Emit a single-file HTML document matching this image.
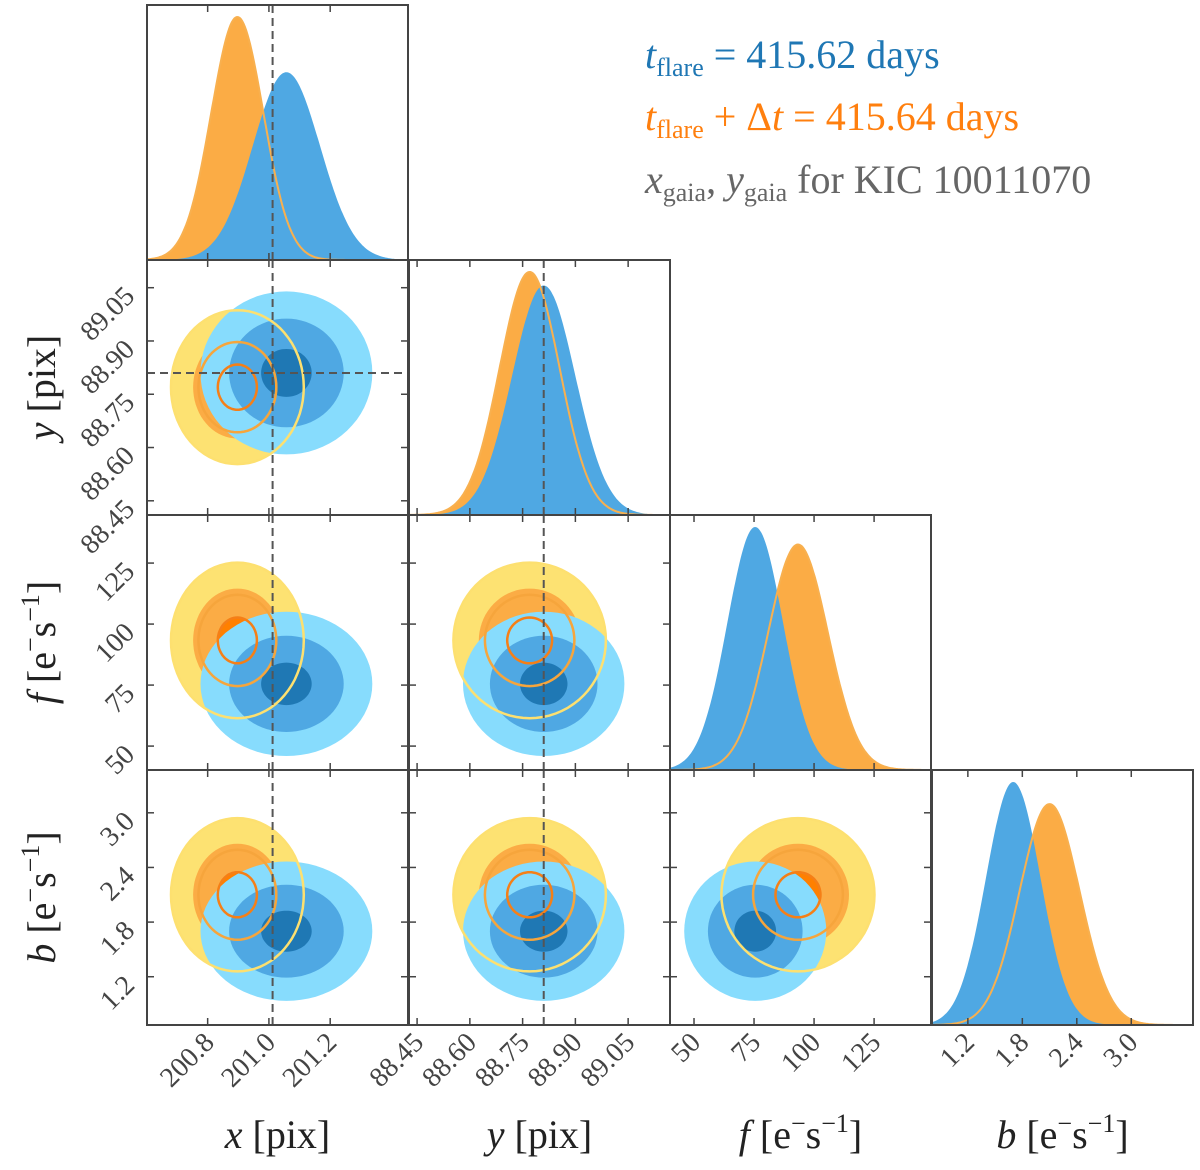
<!DOCTYPE html>
<html><head><meta charset="utf-8"><style>
html,body{margin:0;padding:0;background:#fff;}
svg{display:block;font-family:"Liberation Serif",serif;}
</style></head><body>
<svg id="chart" width="1200" height="1170" viewBox="0 0 1200 1170" xmlns="http://www.w3.org/2000/svg">
<defs id="defs"></defs>
<g id="panels"></g>
<g id="legend" font-size="40">
 <text x="645" y="68" fill="#1f77b4"><tspan font-style="italic">t</tspan><tspan font-size="26" dy="8">flare</tspan><tspan dy="-8"> = 415.62 days</tspan></text>
 <text x="645" y="130" fill="#ff7f0e"><tspan font-style="italic">t</tspan><tspan font-size="26" dy="8">flare</tspan><tspan dy="-8"> + Δ</tspan><tspan font-style="italic">t</tspan><tspan> = 415.64 days</tspan></text>
 <text x="645" y="193" fill="#666"><tspan font-style="italic">x</tspan><tspan font-size="26" dy="8">gaia</tspan><tspan dy="-8">, </tspan><tspan font-style="italic">y</tspan><tspan font-size="26" dy="8">gaia</tspan><tspan dy="-8"> for KIC 10011070</tspan></text>
</g>
</svg>
<script>
// ---- data ----
const paramNames = ["x","y","f","b"];
const blueMean = [201.057, 88.81, 75.5, 1.70];
const blueSd   = [0.11, 0.09, 11.6, 0.30];
const orangeMean = [200.897, 88.77, 93.3, 2.10];
const orangeSd   = [0.085, 0.085, 12.5, 0.33];
const gaiaX = 201.012;
const gaiaY = 88.81;
const contourLevels = [2.55, 1.7, 0.75];
const tickX = [200.8, 201.0, 201.2];
const tickY = [88.45, 88.60, 88.75, 88.90, 89.05];
const tickF = [50, 75, 100, 125];
const tickB = [1.2, 1.8, 2.4, 3.0];
const tickLabelsX = ["200.8","201.0","201.2"];
const tickLabelsY = ["88.45","88.60","88.75","88.90","89.05"];
const tickLabelsF = ["50","75","100","125"];
const tickLabelsB = ["1.2","1.8","2.4","3.0"];
// ---- axis config ----
const colLo = [200.602, 88.427, 40.0, 0.805];
const colHi = [201.454, 89.169, 148.7, 3.68];
const rowLo = [0, 88.41, 40.2, 0.67];
const rowHi = [1, 89.128, 144.7, 3.47];
const colX0 = [147, 409, 670, 932];
const rowY0 = [5, 260, 515, 770];
const PW = 261, PH = 255;
const ticks = [tickX, tickY, tickF, tickB];
const tickLabels = [tickLabelsX, tickLabelsY, tickLabelsF, tickLabelsB];
const blueFills = ["#87dcfd", "#4fa8e3", "#1f78b4"];
const orangeFills = ["#fde272", "#fbac45", "#ff8000"];
const orangeLines = ["#fde070", "#f6a53c", "#f57f17"];

const NS = "http://www.w3.org/2000/svg";
const svg = document.getElementById('chart');
const panelsG = document.getElementById('panels');
const defs = document.getElementById('defs');
function mk(tag, attrs, parent){const e=document.createElementNS(NS,tag);for(const k in attrs)e.setAttribute(k,attrs[k]);(parent||panelsG).appendChild(e);return e;}
function sx(i,v){return colX0[i] + (v-colLo[i])/(colHi[i]-colLo[i])*PW;}
function sy(j,v){return rowY0[j] + PH - (v-rowLo[j])/(rowHi[j]-rowLo[j])*PH;}
function gauss(v,m,s){return Math.exp(-0.5*((v-m)/s)**2)/s;}

for(let j=0;j<4;j++){
 for(let i=0;i<=j;i++){
  const x0=colX0[i], y0=rowY0[j];
  const g=mk('g',{});
  
  
  const cid='clip'+i+j;
  const cp=mk('clipPath',{id:cid},defs);
  mk('rect',{x:x0,y:y0,width:PW,height:PH},cp);
  const inner=mk('g',{'clip-path':'url(#'+cid+')'},g);
  if(i===j){
   const N=200; let maxD=0;
   const bd=[],od=[];
   for(let k=0;k<=N;k++){const v=colLo[i]+(colHi[i]-colLo[i])*k/N;bd.push([v,gauss(v,blueMean[i],blueSd[i])]);od.push([v,gauss(v,orangeMean[i],orangeSd[i])]);}
   bd.concat(od).forEach(p=>{if(p[1]>maxD)maxD=p[1];});
   const base=y0+PH, H=243;
   const path=(arr,close)=>{let d='';arr.forEach((p,k)=>{d+=(k?'L':'M')+sx(i,p[0]).toFixed(1)+','+(base-p[1]/maxD*H).toFixed(1);});if(close)d+='L'+(x0+PW)+','+base+'L'+x0+','+base+'Z';return d;};
   const of=mk('path',{d:path(od,true),fill:'#fbac45'},inner);
   
   
   const bf=mk('path',{d:path(bd,true),fill:'#4fa8e3'},inner);
   
   
   const ol=mk('path',{d:path(od,false),fill:'none',stroke:'#f8b04f','stroke-width':2},inner);
   
   
  } else {
   const ell=(m,s,r)=>{let d='';for(let k=0;k<=72;k++){const a=k/72*2*Math.PI;const vx=m[i]+r*s[i]*Math.cos(a);const vy=m[j]+r*s[j]*Math.sin(a);d+=(k?'L':'M')+sx(i,vx).toFixed(1)+','+sy(j,vy).toFixed(1);}return d+'Z';};
   contourLevels.forEach((r,k)=>{const e=mk('path',{d:ell(orangeMean,orangeSd,r),fill:orangeFills[k]},inner);
    
    });
   contourLevels.forEach((r,k)=>{const e=mk('path',{d:ell(blueMean,blueSd,r),fill:blueFills[k]},inner);
    
    });
   contourLevels.forEach((r,k)=>{const e=mk('path',{d:ell(orangeMean,orangeSd,r*(k===1?0.88:1)),fill:'none',stroke:orangeLines[k],'stroke-width':2.5},inner);
    
    });
  }
  if(i===0){const l=mk('line',{x1:sx(0,gaiaX),x2:sx(0,gaiaX),y1:y0,y2:y0+PH,stroke:'#555','stroke-width':2,'stroke-dasharray':'8,5'},inner);
   
   }
  if(i===1){const l=mk('line',{x1:sx(1,gaiaY),x2:sx(1,gaiaY),y1:y0,y2:y0+PH,stroke:'#555','stroke-width':2,'stroke-dasharray':'8,5'},inner);
   
   }
  if(j===1&&i===0){const l=mk('line',{x1:x0,x2:x0+PW,y1:sy(1,gaiaY),y2:sy(1,gaiaY),stroke:'#555','stroke-width':2,'stroke-dasharray':'8,5'},inner);
   
   }
  ticks[i].forEach(t=>{const X=sx(i,t);
   mk('line',{x1:X,x2:X,y1:y0+PH,y2:y0+PH-7,stroke:'#444','stroke-width':1.5},g);
   mk('line',{x1:X,x2:X,y1:y0,y2:y0+7,stroke:'#444','stroke-width':1.5},g);});
  if(i!==j) ticks[j].forEach(t=>{const Y=sy(j,t);
   mk('line',{x1:x0,x2:x0+7,y1:Y,y2:Y,stroke:'#444','stroke-width':1.5},g);
   mk('line',{x1:x0+PW-7,x2:x0+PW,y1:Y,y2:Y,stroke:'#444','stroke-width':1.5},g);});
  const fr=mk('rect',{x:x0,y:y0,width:PW,height:PH,fill:'none',stroke:'#444','stroke-width':2},g);
  
  
 }
}
for(let i=0;i<4;i++){
 ticks[i].forEach((t,k)=>{const X=sx(i,t)+8, Y=1044;
  const tx=mk('text',{x:X,y:Y,'text-anchor':'end','font-size':28,fill:'#444',transform:'rotate(-45 '+X+' '+Y+')'});
  
  
  tx.textContent=tickLabels[i][k];});
 const lab=mk('text',{x:colX0[i]+PW/2,y:1148,'text-anchor':'middle','font-size':40,fill:'#222'});
 
 
 lab.innerHTML = i<2 ? '<tspan font-style="italic">'+paramNames[i]+'</tspan> [pix]' : '<tspan font-style="italic">'+paramNames[i]+'</tspan> [e<tspan font-size="26" dy="-16">−</tspan><tspan dy="16">s</tspan><tspan font-size="26" dy="-16">−1</tspan><tspan dy="16">]</tspan>';
}
for(let j=1;j<4;j++){
 ticks[j].forEach((t,k)=>{const X=136, Y=sy(j,t)+10;
  const tx=mk('text',{x:X,y:Y,'text-anchor':'end','font-size':28,fill:'#444',transform:'rotate(-45 '+X+' '+Y+')'});
  
  
  tx.textContent=tickLabels[j][k];});
 const cy=rowY0[j]+PH/2;
 const lab=mk('text',{x:55,y:cy,'text-anchor':'middle','font-size':40,fill:'#222',transform:'rotate(-90 55 '+cy+')'});
 
 
 lab.innerHTML = j<2 ? '<tspan font-style="italic">'+paramNames[j]+'</tspan> [pix]' : '<tspan font-style="italic">'+paramNames[j]+'</tspan> [e<tspan font-size="26" dy="-16">−</tspan><tspan dy="16">s</tspan><tspan font-size="26" dy="-16">−1</tspan><tspan dy="16">]</tspan>';
}
</script>
</body></html>
